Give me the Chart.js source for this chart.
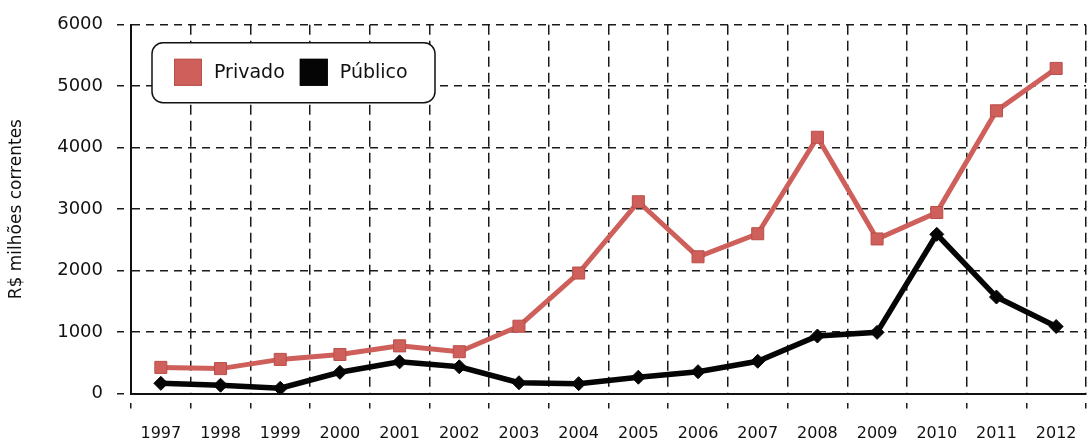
<!DOCTYPE html>
<html lang="pt-BR">
<head>
<meta charset="utf-8">
<title>Investimento privado e público</title>
<script src="https://cdn.jsdelivr.net/npm/chart.js@4.4.1/dist/chart.umd.min.js"></script>
<style>
  html, body { margin: 0; padding: 0; background: #fff; }
  #wrap { position: relative; width: 1088px; height: 441px; }
</style>
</head>
<body>
<div id="wrap"><canvas id="investChart"></canvas></div>
<script>
// anos e valores (R$ milhões correntes)
const anos = ["1997", "1998", "1999", "2000", "2001", "2002", "2003", "2004",
              "2005", "2006", "2007", "2008", "2009", "2010", "2011", "2012"];
const privado = [425, 405, 555, 635, 775, 680, 1095, 1960, 3120, 2225, 2600, 4170, 2515, 2945, 4600, 5290];
const publico = [165, 135, 85, 345, 515, 435, 175, 160, 265, 355, 525, 935, 995, 2590, 1570, 1090];

const VERMELHO = "rgb(206, 95, 90)";
const VERMELHO_BORDA = "rgb(186, 78, 73)";
const PRETO = "#050505";
const FONTE = "'DejaVu Sans', sans-serif";

// legenda em caixa arredondada dentro da área do gráfico
const legendaCaixa = {
  id: "legendaCaixa",
  afterDraw(chart) {
    const { ctx, chartArea } = chart;
    const x = chartArea.left + 21;
    const y = chartArea.top + 18;
    const w = 283, h = 60;

    ctx.save();
    ctx.beginPath();
    ctx.roundRect(x, y, w, h, 11);
    ctx.fillStyle = "#fff";
    ctx.fill();
    ctx.lineWidth = 1.5;
    ctx.strokeStyle = "#111";
    ctx.stroke();

    ctx.font = "19px " + FONTE;
    ctx.textBaseline = "middle";
    let cx = x + 22;
    chart.data.datasets.forEach((ds) => {
      ctx.fillStyle = ds.backgroundColor;
      ctx.fillRect(cx, y + 16, 28, 27);
      ctx.lineWidth = 1;
      ctx.strokeStyle = ds.pointBorderColor;
      ctx.strokeRect(cx + 0.5, y + 16.5, 27, 26);
      ctx.fillStyle = "#111";
      ctx.fillText(ds.label, cx + 40, y + 30);
      cx += 40 + ctx.measureText(ds.label).width + 15;
    });
    ctx.restore();
  }
};

const ctx = document.getElementById("investChart");

new Chart(ctx, {
  type: "line",
  data: {
    labels: anos,
    datasets: [
      {
        label: "Privado",
        data: privado,
        borderColor: VERMELHO,
        backgroundColor: VERMELHO,
        pointBorderColor: VERMELHO_BORDA,
        pointBackgroundColor: VERMELHO,
        borderWidth: 5,
        pointStyle: "rect",
        pointRadius: 8.5,
        pointBorderWidth: 1,
        tension: 0,
      },
      {
        label: "Público",
        data: publico,
        borderColor: PRETO,
        backgroundColor: PRETO,
        pointBorderColor: PRETO,
        pointBackgroundColor: PRETO,
        borderWidth: 5.5,
        pointStyle: "rectRot",
        pointRadius: 7,
        pointBorderWidth: 1,
        tension: 0,
      },
    ],
  },
  options: {
    responsive: true,
    maintainAspectRatio: false,
    animation: false,
    layout: {
      autoPadding: false,
      padding: { left: 0, right: 2, top: 23, bottom: 0 },
    },
    plugins: {
      legend: { display: false },
      tooltip: { enabled: false },
    },
    scales: {
      x: {
        offset: true,
        afterFit: (scale) => {
          scale.height = 47.5;
          scale.paddingLeft = 0;
          scale.paddingRight = 0;
        },
        grid: {
          offset: true,
          color: "#1a1a1a",
          lineWidth: 1.5,
          tickLength: 15,
          tickBorderDash: [0, 8, 7, 0],
          tickColor: "#1a1a1a",
          tickWidth: 1.5,
        },
        border: { display: true, color: "#111", width: 2, dash: [10, 6] },
        ticks: {
          color: "#111",
          font: { family: FONTE, size: 16 },
          padding: 16,
          maxRotation: 0,
        },
      },
      y: {
        min: 0,
        max: 6000,
        afterFit: (scale) => { scale.width = 131; },
        grid: {
          color: "#1a1a1a",
          lineWidth: 1.5,
          tickLength: 14,
          tickBorderDash: [7, 7],
          tickColor: "#1a1a1a",
          tickWidth: 1.5,
        },
        border: { display: true, color: "#111", width: 2, dash: [8, 6] },
        ticks: {
          stepSize: 1000,
          color: "#111",
          font: { family: FONTE, size: 18 },
          padding: 14,
          callback: (v) => String(v),
        },
        title: {
          display: true,
          text: "R$ milhões correntes",
          color: "#111",
          font: { family: FONTE, size: 17 },
          padding: { top: 6, bottom: 0 },
        },
      },
    },
  },
  plugins: [legendaCaixa],
});
</script>
</body>
</html>
